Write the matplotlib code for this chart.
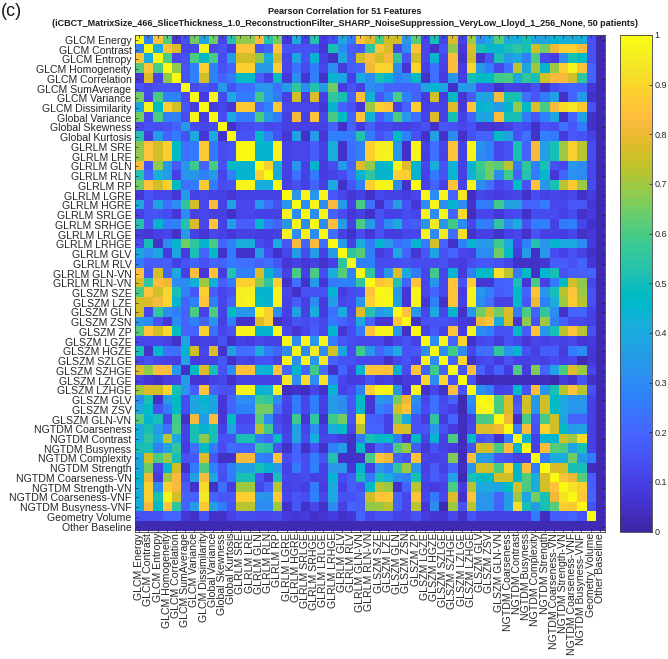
import numpy as np
import matplotlib
matplotlib.use('Agg')
import matplotlib.pyplot as plt
from matplotlib.colors import ListedColormap

plt.rcParams['font.family'] = ['Liberation Sans', 'DejaVu Sans']

features = ['GLCM Energy', 'GLCM Contrast', 'GLCM Entropy', 'GLCM Homogeneity', 'GLCM Correlation',
            'GLCM SumAverage', 'GLCM Variance', 'GLCM Dissimilarity', 'Global Variance', 'Global Skewness',
            'Global Kurtosis', 'GLRLM SRE', 'GLRLM LRE', 'GLRLM GLN', 'GLRLM RLN', 'GLRLM RP', 'GLRLM LGRE',
            'GLRLM HGRE', 'GLRLM SRLGE', 'GLRLM SRHGE', 'GLRLM LRLGE', 'GLRLM LRHGE', 'GLRLM GLV', 'GLRLM RLV',
            'GLRLM GLN-VN', 'GLRLM RLN-VN', 'GLSZM SZE', 'GLSZM LZE', 'GLSZM GLN', 'GLSZM ZSN', 'GLSZM ZP',
            'GLSZM LGZE', 'GLSZM HGZE', 'GLSZM SZLGE', 'GLSZM SZHGE', 'GLSZM LZLGE', 'GLSZM LZHGE', 'GLSZM GLV',
            'GLSZM ZSV', 'GLSZM GLN-VN', 'NGTDM Coarseness', 'NGTDM Contrast', 'NGTDM Busyness',
            'NGTDM Complexity', 'NGTDM Strength', 'NGTDM Coarseness-VN', 'NGTDM Strength-VN',
            'NGTDM Coarseness-VNF', 'NGTDM Busyness-VNF', 'Geometry Volume', 'Other Baseline']

# upper triangle in percent, each row starts on the diagonal
r00 = [100,28,85,62,7,15,65,38,65,12,52,68,68,83,52,65,7,40,10,52,8,13,38,25,85,78,60,75,75,33,62,12,50,12,77,10,70,30,40,62,42,42,50,38,38,45,42,42,42,15,3]
r01 = [100,40,85,78,12,12,97,12,15,8,85,85,15,20,85,15,15,15,15,7,50,30,18,17,55,85,78,12,30,85,12,6,15,68,7,78,50,47,45,50,55,50,75,65,80,88,88,82,15,3]
r02 = [100,60,12,15,60,48,60,13,35,75,75,68,42,75,12,38,15,45,10,6,38,18,75,83,75,82,55,15,75,12,45,12,83,5,75,6,15,50,35,40,27,60,12,8,30,50,47,15,3]
r03 = [100,68,15,27,88,27,15,20,88,88,35,35,88,12,22,13,25,12,30,8,18,20,80,90,90,30,7,90,10,22,10,83,8,90,35,25,12,22,72,38,70,45,70,88,97,85,20,3]
r04 = [100,15,27,75,27,20,25,47,47,18,10,48,7,30,7,28,5,45,38,10,40,30,50,45,27,30,47,6,22,8,33,10,50,47,47,58,60,40,55,50,75,82,82,75,55,20,3]
r05 = [100,13,17,13,35,15,22,22,33,33,22,35,55,30,52,35,65,8,15,10,30,27,20,20,20,20,38,45,38,6,35,33,13,13,6,10,10,9,15,6,13,18,20,20,7,3]
r06 = [100,8,98,13,40,25,25,58,33,25,10,75,10,78,10,55,50,20,83,43,17,27,60,27,20,8,75,8,48,7,18,38,38,82,50,50,22,17,25,37,6,20,35,5,2]
r07 = [100,8,12,7,87,87,20,27,87,12,12,12,12,7,45,20,15,7,70,88,85,10,20,88,10,12,10,77,7,85,45,43,35,45,68,48,78,60,82,92,95,87,15,3]
r08 = [100,13,40,25,25,60,35,25,10,82,10,85,12,60,47,20,85,43,18,27,60,33,22,10,78,10,50,10,20,38,38,83,50,50,25,17,27,38,6,20,37,5,2]
r09 = [100,5,14,14,15,12,14,10,10,10,10,10,20,5,20,8,18,12,12,10,10,12,15,5,17,15,12,15,7,7,7,10,15,13,6,15,14,23,17,25,5,3]
r10 = [100,15,15,48,27,15,7,37,5,35,7,27,25,25,52,25,15,20,48,27,15,6,37,5,30,5,15,20,20,47,37,15,22,5,27,25,8,17,15,10,3]
r11 = [100,100,45,45,98,10,12,12,18,10,42,5,22,27,88,96,96,33,6,98,10,22,12,85,10,97,32,27,12,15,50,20,82,37,50,70,88,72,13,3]
r12 = [100,45,45,98,10,12,12,18,10,42,5,22,27,88,96,97,33,6,98,8,22,10,85,10,97,30,27,12,15,50,20,82,37,50,70,88,72,13,3]
r13 = [100,88,42,10,33,10,45,8,13,35,20,77,68,45,48,98,78,45,12,42,15,43,10,45,58,65,62,72,25,55,27,50,15,12,33,30,12,3]
r14 = [100,42,10,22,10,25,8,10,13,22,45,55,45,45,88,88,45,10,25,15,45,10,43,55,65,30,58,20,52,25,45,7,20,32,30,12,3]
r15 = [100,10,15,10,20,10,40,5,17,28,88,97,97,30,5,99,10,20,10,85,10,98,30,22,12,15,48,15,85,33,50,72,87,70,13,3]
r16 = [100,33,98,33,97,17,12,7,10,6,12,10,10,8,12,98,30,98,20,95,4,12,10,8,10,12,6,13,10,12,10,12,6,8,2]
r17 = [100,30,98,30,82,35,10,60,22,5,18,37,15,7,30,97,30,45,30,5,25,25,58,37,37,20,20,25,12,12,17,17,7,2]
r18 = [100,30,98,20,13,7,10,5,15,10,10,13,12,98,30,98,20,92,4,12,12,7,12,13,5,13,13,13,10,14,5,8,2]
r19 = [100,30,83,35,10,60,35,15,30,42,17,18,33,95,33,58,30,12,27,25,55,30,42,15,25,27,10,25,27,12,5,2]
r20 = [100,22,10,5,13,7,15,8,8,12,12,98,30,95,22,93,5,10,10,5,10,12,5,15,10,10,8,12,6,7,2]
r21 = [100,35,10,42,25,45,35,22,25,45,25,75,20,5,28,45,35,35,58,42,12,27,52,33,45,40,40,30,8,2]
r22 = [100,55,62,28,8,12,40,20,7,17,38,15,20,12,10,30,30,65,47,8,35,6,33,13,10,15,10,5,2]
r23 = [100,27,28,13,13,13,15,13,13,13,15,10,8,13,17,17,15,12,5,5,5,7,18,18,15,20,7,3]
r24 = [100,55,15,33,77,40,25,12,58,12,45,8,27,47,47,93,72,25,48,6,45,50,15,18,18,20,3]
r25 = [100,85,88,52,20,85,12,33,12,85,15,88,7,7,20,20,50,7,60,10,25,47,75,68,12,3]
r26 = [100,97,33,7,98,12,20,12,85,8,97,33,28,18,20,47,20,85,33,50,72,85,70,15,3]
r27 = [100,38,7,97,7,28,6,85,10,97,30,22,10,10,47,17,80,27,42,70,87,72,15,3]
r28 = [100,85,33,12,40,12,45,5,33,65,75,65,77,25,60,20,55,30,6,20,20,10,3]
r29 = [100,5,15,15,15,13,8,7,80,85,40,75,7,68,15,70,28,20,12,12,10,3]
r30 = [100,10,17,10,85,8,98,30,27,15,15,47,18,85,33,50,72,85,72,15,3]
r31 = [100,30,98,20,90,5,12,13,8,15,12,7,12,10,12,10,12,7,8,2]
r32 = [100,30,58,30,12,22,22,55,33,45,15,10,18,18,8,25,30,7,3]
r33 = [100,20,90,5,12,13,8,15,10,10,12,10,13,10,12,3,7,3]
r34 = [100,15,83,20,10,20,8,60,8,67,20,37,60,78,70,12,3]
r35 = [100,15,3,3,4,4,4,4,4,4,2,8,5,15,6,2]
r36 = [100,32,27,10,12,47,15,83,33,50,72,85,72,15,3]
r37 = [100,97,60,77,15,75,35,75,47,40,33,33,10,3]
r38 = [100,60,77,18,75,33,75,47,40,33,33,10,3]
r39 = [100,80,5,60,17,60,75,38,20,20,10,3]
r40 = [100,25,83,15,90,75,47,35,37,10,3]
r41 = [100,45,10,45,45,75,70,92,10,3]
r42 = [100,10,83,62,60,38,50,10,3]
r43 = [100,25,42,42,65,35,25,3]
r44 = [100,78,75,50,50,4,3]
r45 = [100,85,80,62,18,3]
r46 = [100,93,88,18,3]
r47 = [100,87,20,3]
r48 = [100,15,3]
r49 = [100,3]
r50 = [2]

upper_rows = [r00, r01, r02, r03, r04, r05, r06, r07, r08, r09, r10, r11, r12, r13, r14, r15, r16,
              r17, r18, r19, r20, r21, r22, r23, r24, r25, r26, r27, r28, r29, r30, r31, r32, r33,
              r34, r35, r36, r37, r38, r39, r40, r41, r42, r43, r44, r45, r46, r47, r48, r49, r50]

parula = [(0.2422, 0.1504, 0.6603), (0.2504, 0.1650, 0.7076), (0.2578, 0.1818, 0.7511), (0.2647, 0.1978, 0.7952),
          (0.2706, 0.2147, 0.8364), (0.2751, 0.2342, 0.8710), (0.2783, 0.2559, 0.8991), (0.2803, 0.2782, 0.9221),
          (0.2813, 0.3006, 0.9414), (0.2810, 0.3228, 0.9579), (0.2795, 0.3447, 0.9717), (0.2760, 0.3667, 0.9829),
          (0.2699, 0.3892, 0.9906), (0.2602, 0.4123, 0.9952), (0.2440, 0.4358, 0.9988), (0.2206, 0.4603, 0.9973),
          (0.1963, 0.4847, 0.9892), (0.1834, 0.5074, 0.9798), (0.1786, 0.5289, 0.9682), (0.1764, 0.5499, 0.9520),
          (0.1687, 0.5703, 0.9359), (0.1540, 0.5902, 0.9218), (0.1460, 0.6091, 0.9079), (0.1380, 0.6276, 0.8973),
          (0.1248, 0.6459, 0.8883), (0.1113, 0.6635, 0.8763), (0.0952, 0.6798, 0.8598), (0.0689, 0.6948, 0.8394),
          (0.0297, 0.7082, 0.8163), (0.0036, 0.7203, 0.7917), (0.0067, 0.7312, 0.7660), (0.0433, 0.7411, 0.7394),
          (0.0964, 0.7500, 0.7120), (0.1408, 0.7584, 0.6842), (0.1717, 0.7670, 0.6554), (0.1938, 0.7758, 0.6251),
          (0.2161, 0.7843, 0.5923), (0.2470, 0.7918, 0.5567), (0.2906, 0.7973, 0.5188), (0.3406, 0.8008, 0.4789),
          (0.3909, 0.8029, 0.4354), (0.4456, 0.8024, 0.3909), (0.5044, 0.7993, 0.3480), (0.5616, 0.7942, 0.3045),
          (0.6174, 0.7876, 0.2612), (0.6720, 0.7793, 0.2227), (0.7242, 0.7698, 0.1910), (0.7738, 0.7598, 0.1646),
          (0.8203, 0.7498, 0.1535), (0.8634, 0.7406, 0.1596), (0.9035, 0.7330, 0.1774), (0.9393, 0.7288, 0.2100),
          (0.9728, 0.7298, 0.2394), (0.9956, 0.7434, 0.2371), (0.9970, 0.7659, 0.2199), (0.9952, 0.7893, 0.2028),
          (0.9892, 0.8136, 0.1885), (0.9786, 0.8386, 0.1766), (0.9676, 0.8639, 0.1643), (0.9610, 0.8890, 0.1537),
          (0.9597, 0.9135, 0.1423), (0.9628, 0.9373, 0.1265), (0.9691, 0.9606, 0.1064), (0.9769, 0.9839, 0.0805)]

n = len(features)
corr = np.zeros((n, n))
for i, row in enumerate(upper_rows):
    if len(row) != n - i:
        print('bad row', i, len(row), n - i)
    for k, v in enumerate(row[:n - i]):
        corr[i, i + k] = v / 100
        corr[i + k, i] = v / 100

W, H = 668, 659
fig = plt.figure(figsize=(W / 100, H / 100), dpi=100)
ax = fig.add_axes([134.5 / W, 1 - 531.5 / H, 470 / W, 496.5 / H])
im = ax.imshow(corr, cmap=ListedColormap(parula), vmin=0, vmax=1, aspect='auto', interpolation='nearest')

ax.set_xticks(range(n))
ax.set_yticks(range(n))
ax.set_xticklabels(features, rotation=90, fontsize=7.6, color='#262626')
ax.set_yticklabels(features, fontsize=7.6, color='#262626')
ax.tick_params(direction='in', top=True, right=True, length=2.5, width=0.5, pad=2.2, color='#262626')
ax.tick_params(axis='x', pad=1)
for s in ax.spines.values():
    s.set_linewidth(0.6)
    s.set_color('#404040')

cax = fig.add_axes([620 / W, 1 - 531.5 / H, 32 / W, 496.5 / H])
cb = fig.colorbar(im, cax=cax)
cb.set_ticks(np.arange(0, 1.01, 0.1))
cb.set_ticklabels(['0', '0.1', '0.2', '0.3', '0.4', '0.5', '0.6', '0.7', '0.8', '0.9', '1'])
cb.ax.tick_params(direction='in', length=2, width=0.5, labelsize=6.5, pad=2, color='#262626', labelcolor='#262626')
cb.outline.set_linewidth(0.6)
cb.outline.set_edgecolor('#404040')

fig.text(345 / W, 1 - 11 / H, 'Pearson Correlation for 51 Features', ha='center', va='center',
         fontsize=6.45, fontweight='bold', color='#1a1a1a')
fig.text(345 / W, 1 - 23 / H,
         '(iCBCT_MatrixSize_466_SliceThickness_1.0_ReconstructionFilter_SHARP_NoiseSuppression_VeryLow_Lloyd_1_256_None, 50 patients)',
         ha='center', va='center', fontsize=6.45, fontweight='bold', color='#1a1a1a')
fig.text(1 / W, 1 - 12 / H, '(c)', ha='left', va='center', fontsize=13, color='#1a1a1a')

fig.savefig('out.png', dpi=100)
